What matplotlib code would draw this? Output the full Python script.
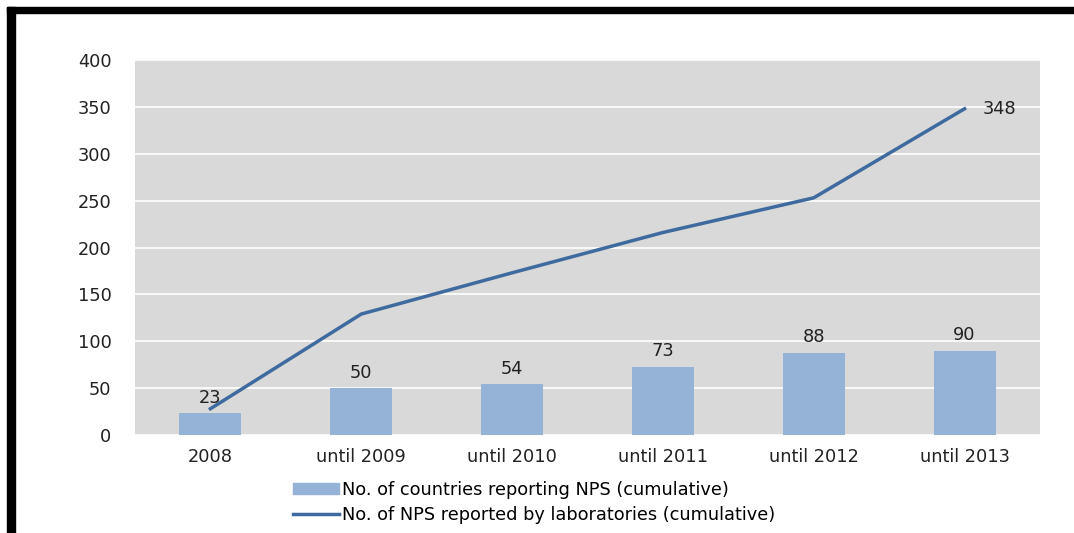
import matplotlib.pyplot as plt
from matplotlib.patches import Rectangle
from matplotlib.lines import Line2D

categories = ['2008', 'until 2009', 'until 2010', 'until 2011', 'until 2012', 'until 2013']
countries = [23, 50, 54, 73, 88, 90]
nps = [28, 129, 173, 216, 253, 348]

bar_color = '#95B3D7'
line_color = '#3F6A9F'
fs = 12.8

fig = plt.figure(figsize=(10.74, 5.33), dpi=100)
W, H = 1074, 533

# black frame on top and left
fig.patches.append(Rectangle((7 / W, 1 - 13 / H), 1 - 7 / W, 6 / H, transform=fig.transFigure,
                             color='black', zorder=10))
fig.patches.append(Rectangle((7 / W, 0), 8 / W, 1 - 7 / H, transform=fig.transFigure,
                             color='black', zorder=10))

ax = fig.add_axes([135 / W, 1 - 435 / H, 905 / W, 375 / H])
ax.set_facecolor('#D9D9D9')
x = range(len(categories))
ax.bar(x, countries, width=0.41, color=bar_color, zorder=2)
ax.plot(x, nps, color=line_color, linewidth=2.5, zorder=3)

for i, v in enumerate(countries):
    ax.text(i, v + 7, str(v), ha='center', va='bottom', fontsize=fs, color='#222222')
ax.text(5 + 0.12, nps[-1], str(nps[-1]), ha='left', va='center', fontsize=fs, color='#222222')

ax.set_xlim(-0.5, 5.5)
ax.set_ylim(0, 400)
ax.set_yticks(range(0, 401, 50))
ax.set_xticks(list(x))
ax.set_xticklabels(categories)
ax.grid(axis='y', color='white', linewidth=1.2, zorder=1)
ax.set_axisbelow(True)
for s in ax.spines.values():
    s.set_visible(False)
ax.tick_params(length=0, labelsize=fs, colors='#222222')
ax.tick_params(axis='y', pad=17)
ax.tick_params(axis='x', pad=9)

handles = [Rectangle((0, 0), 1, 1, color=bar_color),
           Line2D([0], [0], color=line_color, linewidth=2.5)]
labels = ['No. of countries reporting NPS (cumulative)',
          'No. of NPS reported by laboratories (cumulative)']
fig.legend(handles, labels, loc='upper left', bbox_to_anchor=(284 / W, 1 - 472 / H),
           frameon=False, fontsize=fs, handlelength=2.6, handleheight=0.6,
           handletextpad=0.15, labelspacing=0.4, borderpad=0)

fig.savefig('out.png', dpi=100, facecolor='white')
